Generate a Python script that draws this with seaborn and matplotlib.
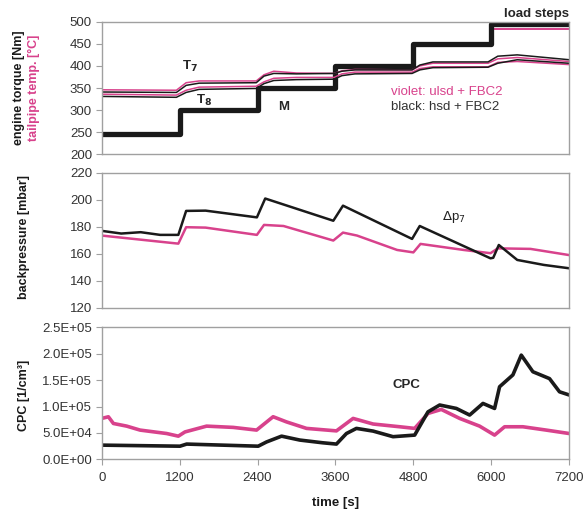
import numpy as np
import matplotlib
matplotlib.use("Agg")
import matplotlib.pyplot as plt
from matplotlib.ticker import FuncFormatter
import seaborn as sns

# Kolory serii
pink = "#d8428c"
black = "#1a1a1a"

# --- panel 1: moment obrotowy i temperatury ---
t_steps = [0, 1200, 2400, 3600, 4800, 6000, 7200]
torque_hsd = [245, 300, 350, 400, 450, 495, 495]
torque_ulsd = [243, 298, 348, 398, 448, 484, 484]

t_temp = [0, 1150, 1300, 1500, 2380, 2500, 2650, 3000, 3580, 3700, 3900,
          4780, 4900, 5100, 5950, 6100, 6400, 7200]
t7_ulsd = [346, 345, 362, 366, 366, 380, 388, 384, 383, 389, 392,
           391, 400, 406, 406, 416, 419, 410]
t7_hsd = [341, 340, 356, 361, 362, 377, 383, 382, 383, 388, 391,
          391, 402, 409, 409, 422, 425, 414]
t8_ulsd = [336, 334, 345, 352, 354, 364, 372, 374, 374, 382, 386,
           386, 394, 398, 398, 408, 410, 403]
t8_hsd = [331, 329, 340, 347, 349, 360, 367, 369, 370, 378, 382,
          383, 391, 396, 397, 406, 414, 406]

# --- panel 2: przeciwciśnienie ---
t_bp_hsd = [0, 300, 600, 900, 1180, 1300, 1600, 2390, 2518, 3567, 3716,
            4780, 4898, 5988, 6030, 6116, 6400, 6810, 7200]
bp_hsd = [177, 175, 176, 174, 174, 191.8, 192, 187, 201, 184.5, 195.7,
          171, 180.6, 156.6, 157, 166.5, 155.4, 151.7, 149.2]
t_bp_ulsd = [0, 1180, 1300, 1600, 2390, 2500, 2800, 3567, 3716, 3932,
             4550, 4800, 4910, 5576, 5988, 6100, 6604, 7200]
bp_ulsd = [173.5, 167.5, 179.7, 179.4, 174, 181.4, 180.6, 169.8, 175.7,
           173.5, 162.8, 161, 167.3, 162.8, 160.4, 164, 163.6, 159]

# --- panel 3: CPC ---
t_cpc_ulsd = [0, 103, 180, 385, 590, 1000, 1180, 1282, 1615, 2025, 2385,
              2640, 2846, 3154, 3615, 3872, 4180, 4590, 4820, 5025, 5230,
              5513, 5820, 6051, 6205, 6487, 6846, 7200]
cpc_ulsd = [77600, 80700, 68000, 63000, 55500, 49000, 44000, 52000, 63000,
            60600, 55500, 80800, 71000, 58700, 54000, 77600, 67000, 61800,
            58700, 87000, 94600, 77600, 63000, 46000, 61800, 61800, 55500,
            49000]
t_cpc_hsd = [0, 1205, 1308, 2410, 2538, 2770, 3051, 3400, 3615, 3769, 3923,
             4180, 4487, 4820, 5025, 5205, 5462, 5667, 5872, 6051, 6128,
             6333, 6462, 6641, 6897, 7051, 7200]
cpc_hsd = [27000, 25000, 29000, 25000, 33000, 44000, 36600, 31500, 29000,
           49000, 58700, 53600, 43000, 46000, 90000, 103000, 96500, 84000,
           106000, 96500, 137600, 160000, 197500, 166000, 153000, 128000,
           122000]

x_ticks = [0, 1200, 2400, 3600, 4800, 6000, 7200]

sns.set_style("white")
plt.rcParams["font.family"] = ["Liberation Sans", "DejaVu Sans"]

fig = plt.figure(figsize=(5.88, 5.11), dpi=100)
ax1 = fig.add_axes([0.173, 0.698, 0.795, 0.2595])
ax2 = fig.add_axes([0.173, 0.398, 0.795, 0.2636])
ax3 = fig.add_axes([0.173, 0.101, 0.795, 0.2583])

# panel 1 (różowy moment pod czarnym)
sns.lineplot(x=t_steps, y=torque_ulsd, ax=ax1, color=pink, lw=1.4,
             drawstyle="steps-post", estimator=None)
sns.lineplot(x=t_steps, y=torque_hsd, ax=ax1, color=black, lw=3.8,
             drawstyle="steps-post", estimator=None)
for vals, c in [(t7_ulsd, pink), (t8_ulsd, pink), (t7_hsd, black), (t8_hsd, black)]:
    sns.lineplot(x=t_temp, y=vals, ax=ax1, color=c, lw=1.1, estimator=None)
ax1.set_ylim(200, 500)
ax1.set_yticks(range(200, 501, 50))

# panel 2
sns.lineplot(x=t_bp_ulsd, y=bp_ulsd, ax=ax2, color=pink, lw=1.8, estimator=None)
sns.lineplot(x=t_bp_hsd, y=bp_hsd, ax=ax2, color=black, lw=1.8, estimator=None)
ax2.set_ylim(120, 220)
ax2.set_yticks(range(120, 221, 20))

# panel 3
sns.lineplot(x=t_cpc_ulsd, y=cpc_ulsd, ax=ax3, color=pink, lw=2.6, estimator=None)
sns.lineplot(x=t_cpc_hsd, y=cpc_hsd, ax=ax3, color=black, lw=2.6, estimator=None)
ax3.set_ylim(0, 250000)
ax3.set_yticks(np.arange(0, 250001, 50000))
ax3.yaxis.set_major_formatter(FuncFormatter(lambda v, p: "%.1E" % v))

for ax in (ax1, ax2, ax3):
    ax.set_xlim(0, 7200)
    ax.set_xticks(x_ticks)
    for s in ax.spines.values():
        s.set_color("#a0a0a0")
        s.set_linewidth(1.0)
    ax.tick_params(axis="y", left=True, length=4, color="#a0a0a0",
                   labelsize=9.5, labelcolor="#333333", pad=3)
    ax.tick_params(axis="x", bottom=True, length=4, color="#a0a0a0",
                   labelsize=9.5, labelcolor="#333333", pad=5)
    ax.set_xlabel("")
    ax.set_ylabel("")
ax1.tick_params(axis="x", bottom=False, labelbottom=False)
ax2.tick_params(axis="x", bottom=False, labelbottom=False)

# etykiety osi
fig.text(0.032, 0.828, "engine torque [Nm]", rotation=90, ha="center",
         va="center", fontsize=9, fontweight="bold", color=black)
fig.text(0.057, 0.828, "tailpipe temp. [°C]", rotation=90, ha="center",
         va="center", fontsize=9, fontweight="bold", color=pink)
fig.text(0.04, 0.536, "backpressure [mbar]", rotation=90, ha="center",
         va="center", fontsize=9, fontweight="bold", color=black)
fig.text(0.04, 0.227, "CPC [1/cm³]", rotation=90, ha="center",
         va="center", fontsize=9, fontweight="bold", color=black)
fig.text(0.57, 0.016, "time [s]", ha="center", va="center", fontsize=9.5,
         fontweight="bold", color=black)

# adnotacje
ax1.text(1360, 398, r"T$_\mathbf{7}$", fontsize=9.5, fontweight="bold", ha="center", va="center")
ax1.text(1580, 322, r"T$_\mathbf{8}$", fontsize=9.5, fontweight="bold", ha="center", va="center")
ax1.text(2800, 308, "M", fontsize=9.5, fontweight="bold", ha="center", va="center")
ax1.text(7200, 505, "load steps", fontsize=9.5, fontweight="bold", ha="right", va="bottom")
ax1.text(4450, 341, "violet: ulsd + FBC2", fontsize=9.5, color=pink, ha="left", va="center")
ax1.text(4450, 307, "black: hsd + FBC2", fontsize=9.5, color="#333333", ha="left", va="center")
ax2.text(5420, 187.5, r"$\Delta$p$_7$", fontsize=9.5, ha="center", va="center", color="#222222")
ax3.text(4700, 141000, "CPC", fontsize=9.5, fontweight="bold", ha="center", va="center")

fig.savefig("out.png", dpi=100)
